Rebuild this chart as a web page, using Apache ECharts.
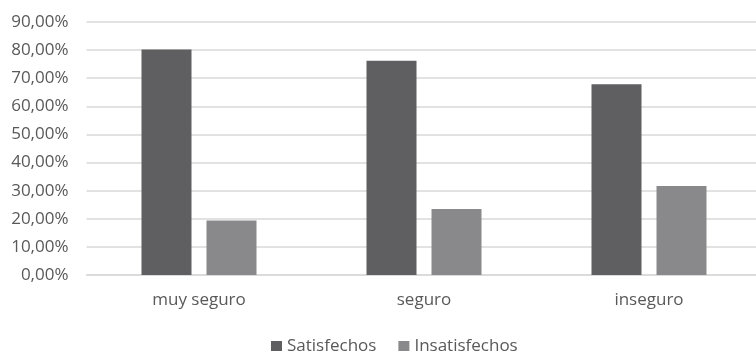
<!DOCTYPE html>
<html>
<head>
<meta charset="utf-8">
<script src="https://cdn.jsdelivr.net/npm/echarts@6/dist/echarts.min.js"></script>
<style>
  html, body { margin: 0; padding: 0; background: #ffffff; }
  #chart { width: 756px; height: 351px; }
</style>
</head>
<body>
<div id="chart"></div>
<script>
// Satisfaction by perceived safety level (percent)
const categories = ['muy seguro', 'seguro', 'inseguro'];
const satisfechos = [80.2, 76.2, 67.9];
const insatisfechos = [19.4, 23.5, 31.7];
const seriesNames = ['Satisfechos', 'Insatisfechos'];
const yTicks = { min: 0, max: 90, interval: 10 };

const fmtPct = v => v.toFixed(2).replace('.', ',') + '%';

const chart = echarts.init(document.getElementById('chart'), null, { renderer: 'canvas' });
const font = '"Open Sans", "Liberation Sans", sans-serif';

chart.setOption({
  animation: false,
  backgroundColor: '#ffffff',
  // plot area runs slightly past the right edge of the canvas
  grid: { left: 86.5, width: 675, top: 22, bottom: 76, outerBoundsMode: 'none' },
  legend: {
    data: seriesNames,
    left: 271,
    top: 338,
    padding: 0,
    itemWidth: 11,
    itemHeight: 11,
    itemGap: 22,
    icon: 'rect',
    textStyle: { color: '#595959', fontSize: 17, fontFamily: font }
  },
  xAxis: {
    type: 'category',
    data: categories,
    axisLine: { show: true, lineStyle: { color: '#d9d9d9', width: 1.5 } },
    axisTick: { show: false },
    axisLabel: { color: '#595959', fontSize: 17, fontFamily: font, margin: 17 }
  },
  yAxis: {
    type: 'value',
    min: yTicks.min,
    max: yTicks.max,
    interval: yTicks.interval,
    axisLine: { show: false },
    axisTick: { show: false },
    splitLine: { lineStyle: { color: '#d9d9d9', width: 1.5 } },
    axisLabel: { color: '#595959', fontSize: 17, fontFamily: font, margin: 18, formatter: fmtPct }
  },
  series: [
    {
      name: seriesNames[0],
      type: 'bar',
      data: satisfechos,
      barWidth: 50,
      barGap: '30%',
      itemStyle: { color: '#5f5f61' }
    },
    {
      name: seriesNames[1],
      type: 'bar',
      data: insatisfechos,
      barWidth: 50,
      itemStyle: { color: '#89898b' }
    }
  ]
});
</script>
</body>
</html>
